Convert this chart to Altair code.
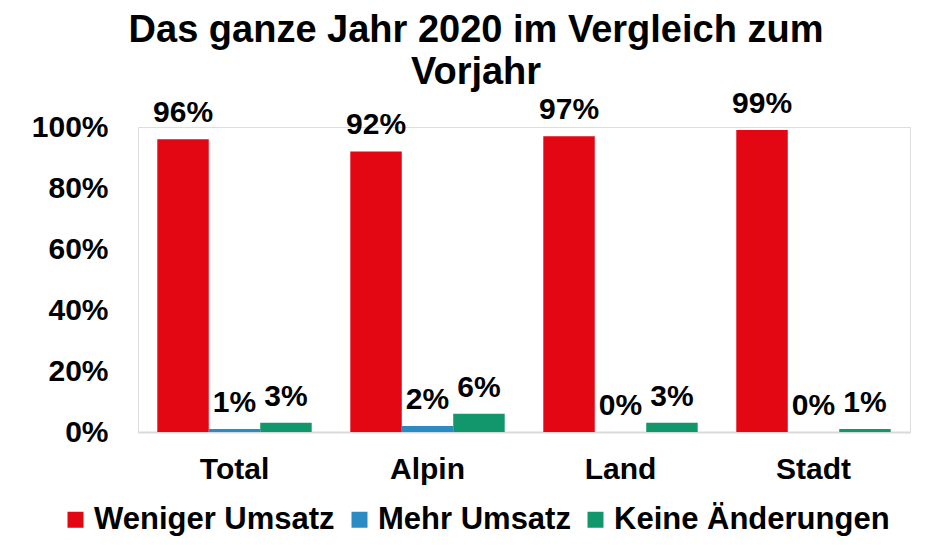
import altair as alt
import pandas as pd

regions = ["Total", "Alpin", "Land", "Stadt"]
series = ["Weniger Umsatz", "Mehr Umsatz", "Keine Änderungen"]
weniger = [96, 92, 97, 99]
mehr = [1, 2, 0, 0]
keine = [3, 6, 3, 1]
colors = ["#E30613", "#2B8CC4", "#12966B"]
y_ticks = [0, 0.2, 0.4, 0.6, 0.8, 1.0]
title_lines = ["Das ganze Jahr 2020 im Vergleich zum", "Vorjahr"]

rows = []
for i, r in enumerate(regions):
    for s, vals in zip(series, [weniger, mehr, keine]):
        rows.append({"Region": r, "Serie": s, "Wert": vals[i] / 100, "Label": f"{vals[i]}%"})
df = pd.DataFrame(rows)

FONT = "Liberation Sans"

x = alt.X(
    "Region:N", sort=regions,
    scale=alt.Scale(paddingInner=0.2, paddingOuter=0.1),
    axis=alt.Axis(title=None, labelAngle=0, labelFontSize=30, labelFontWeight="bold",
                  labelColor="black", labelPadding=22, ticks=False, grid=False,
                  domainColor="#D9D9D9", domainWidth=2, labelFont=FONT),
)
xoff = alt.XOffset("Serie:N", sort=series, scale=alt.Scale(paddingInner=0, paddingOuter=0))
y = alt.Y(
    "Wert:Q", scale=alt.Scale(domain=[0, 1], nice=False),
    axis=alt.Axis(title=None, format=".0%", values=y_ticks, labelFontSize=30,
                  labelFontWeight="bold", labelColor="black", labelPadding=30,
                  ticks=False, domain=False, grid=False, labelFont=FONT),
)
color = alt.Color(
    "Serie:N", sort=series,
    scale=alt.Scale(domain=series, range=colors),
    legend=alt.Legend(title=None, orient="none", direction="horizontal",
                      legendX=-78, legendY=377, symbolType="square", symbolSize=256,
                      symbolStrokeWidth=0, labelFontSize=31, labelFontWeight="bold",
                      labelColor="black", labelOffset=3, columnPadding=9,
                      labelLimit=400, labelFont=FONT),
)

bars = alt.Chart(df).mark_bar().encode(x=x, xOffset=xoff, y=y, color=color)
labels = alt.Chart(df).mark_text(
    baseline="alphabetic", dy=-17, fontSize=30, fontWeight="bold", color="black", font=FONT
).encode(x=x, xOffset=xoff, y=y, text="Label:N")

chart = (bars + labels).properties(
    width=772, height=305,
    padding={"left": 130, "top": 119, "right": 14, "bottom": 105},
    autosize=alt.AutoSizeParams(type="none"),
    title=alt.TitleParams(text=title_lines, fontSize=38, fontWeight="bold", font=FONT,
                          color="black", anchor="middle", dx=-48, dy=7, lineHeight=42),
).configure_view(stroke=None).configure_axis(grid=False).configure(font=FONT)

chart.save("out.html", embed_options={"renderer": "svg", "actions": False})
